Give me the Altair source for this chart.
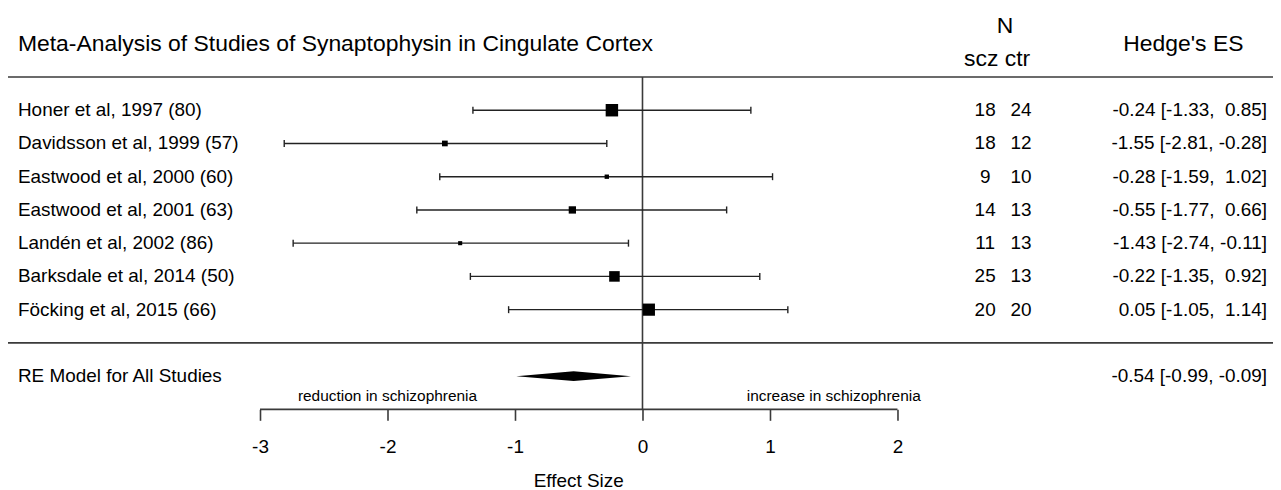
import altair as alt
import pandas as pd

# ---------------- data ----------------
studies = [
    "Honer et al, 1997 (80)",
    "Davidsson et al, 1999 (57)",
    "Eastwood et al, 2000 (60)",
    "Eastwood et al, 2001 (63)",
    "Landén et al, 2002 (86)",
    "Barksdale et al, 2014 (50)",
    "Föcking et al, 2015 (66)",
]
es = [-0.24, -1.55, -0.28, -0.55, -1.43, -0.22, 0.05]
ci_lo = [-1.33, -2.81, -1.59, -1.77, -2.74, -1.35, -1.05]
ci_hi = [0.85, -0.28, 1.02, 0.66, -0.11, 0.92, 1.14]
n_scz = [18, 18, 9, 14, 11, 25, 20]
n_ctr = [24, 12, 10, 13, 13, 13, 20]
precision = [1.80, 1.55, 1.50, 1.61, 1.49, 1.73, 1.79]  # 1/SE, drives box size

re_label = "RE Model for All Studies"
re_es, re_lo, re_hi = -0.54, -0.99, -0.09

tick_values = [-3, -2, -1, 0, 1, 2]
axis_title = "Effect Size"
title_text = "Meta-Analysis of Studies of Synaptophysin in Cingulate Cortex"
left_note = "reduction in schizophrenia"
right_note = "increase in schizophrenia"

# ---------------- layout ----------------
W, H = 1270, 402
XLO = -3 - 253 / 128
XHI = XLO + W / 128
YLO = -3.047
YHI = 9.0
FONT = "Liberation Sans"
LINE = "#3a3a3a"
RE_ROW = 8

x_scale = alt.Scale(domain=[XLO, XHI], nice=False, zero=False)
y_scale = alt.Scale(domain=[YLO, YHI], nice=False, zero=False, reverse=True)


def fmt(v):
    return f"{v:5.2f}".replace(" ", "\u00a0")


rows = list(range(len(studies)))
pmin, pmax = min(precision), max(precision)
df = pd.DataFrame({
    "study": studies, "es": es, "lo": ci_lo, "hi": ci_hi,
    "scz": n_scz, "ctr": n_ctr, "prec": precision, "row": rows,
})
df["box"] = (4.1 + (df["prec"] - pmin) / (pmax - pmin) * 8.4) ** 2
df["estext"] = [f"{fmt(e)} [{l:.2f}, {fmt(h)}]" for e, l, h in zip(es, ci_lo, ci_hi)]


def Y(f):
    return alt.Y(f, scale=y_scale, axis=None)


def X(f):
    return alt.X(f, scale=x_scale, axis=None)


def text(data, align, size, px=None, xfield=None, yfield="row:Q", tfield="t:N", dy=0):
    enc = dict(y=Y(yfield), text=tfield)
    enc["x"] = alt.value(px) if px is not None else X(xfield)
    return alt.Chart(data).mark_text(
        align=align, baseline="middle", font=FONT, fontSize=size, color="black", dy=dy
    ).encode(**enc)


# axis layer (domain line drawn from -3 to 2, ticks + labels from the axis)
ax = pd.DataFrame({"x": [min(tick_values)], "x2": [max(tick_values)], "y": [YHI]})
axis_layer = alt.Chart(ax).mark_rule(color=LINE, strokeWidth=1.6).encode(
    x=alt.X("x:Q", scale=x_scale, axis=alt.Axis(
        values=tick_values, domain=False, grid=False, tickSize=11, tickWidth=1.6,
        tickColor=LINE, labelFont=FONT, labelFontSize=19, labelColor="black",
        labelPadding=17, labelExpr="toString(datum.value)", labelFlush=False,
        labelOverlap=False, title=None)),
    x2="x2:Q", y=Y("y:Q"))

# horizontal separator lines
hl = pd.DataFrame({"y": [-1.0, 7.0]})
hlines = alt.Chart(hl).mark_rule(color=LINE, strokeWidth=1.6).encode(
    x=alt.value(0), x2=alt.value(W), y=Y("y:Q"))

# zero line
zl = pd.DataFrame({"x": [0], "y": [-1.0], "y2": [YHI]})
zero = alt.Chart(zl).mark_rule(color=LINE, strokeWidth=1.6).encode(
    x=X("x:Q"), y=Y("y:Q"), y2="y2:Q")

# CI lines and caps
ci = alt.Chart(df).mark_rule(color="#222222", strokeWidth=1.4).encode(
    x=X("lo:Q"), x2="hi:Q", y=Y("row:Q"))
cap_lo = alt.Chart(df).mark_rule(color="#222222", strokeWidth=1.4, yOffset=-3.5, y2Offset=3.5).encode(
    x=X("lo:Q"), y=Y("row:Q"), y2="row:Q")
cap_hi = alt.Chart(df).mark_rule(color="#222222", strokeWidth=1.4, yOffset=-3.5, y2Offset=3.5).encode(
    x=X("hi:Q"), y=Y("row:Q"), y2="row:Q")

boxes = alt.Chart(df).mark_square(color="black", opacity=1, strokeWidth=0).encode(
    x=X("es:Q"), y=Y("row:Q"), size=alt.Size("box:Q", scale=None, legend=None))

# RE diamond
dd = pd.DataFrame({"x": [re_lo, re_es, re_hi],
                   "y": [RE_ROW, RE_ROW - 0.15, RE_ROW],
                   "y2": [RE_ROW, RE_ROW + 0.15, RE_ROW]})
diamond = alt.Chart(dd).mark_area(color="black", interpolate="linear").encode(
    x=X("x:Q"), y=Y("y:Q"), y2="y2:Q")

# study labels and columns
lab = text(df, "left", 19, px=10, tfield="study:N")
scz = text(df, "center", 19, px=981, tfield="scz:Q")
ctr = text(df, "center", 19, px=1017, tfield="ctr:Q")
estx = text(df, "right", 19, px=1264, tfield="estext:N")

re_df = pd.DataFrame({"row": [RE_ROW], "label": [re_label],
                      "txt": [f"{re_es:.2f} [{re_lo:.2f}, {re_hi:.2f}]"]})
re_lab = text(re_df, "left", 19, px=10, tfield="label:N")
re_txt = text(re_df, "right", 19, px=1264, tfield="txt:N")

# headers
headers = [
    text(pd.DataFrame({"y": [-2.0], "t": [title_text]}), "left", 23, px=10, yfield="y:Q"),
    text(pd.DataFrame({"y": [-2.54], "t": ["N"]}), "center", 23, px=1001, yfield="y:Q"),
    text(pd.DataFrame({"y": [-1.54], "t": ["scz ctr"]}), "center", 23, px=993, yfield="y:Q"),
    text(pd.DataFrame({"y": [-2.0], "t": ["Hedge's ES"]}), "center", 23, px=1180, yfield="y:Q"),
]

notes = pd.DataFrame({"x": [-2.0, 1.5], "y": [8.59, 8.59], "t": [left_note, right_note]})
note_layer = text(notes, "center", 15.5, xfield="x:Q", yfield="y:Q")

xt = pd.DataFrame({"x": [(min(tick_values) + max(tick_values)) / 2], "y": [YHI + 2.16], "t": [axis_title]})
xtitle = text(xt, "center", 19, xfield="x:Q", yfield="y:Q")

chart = alt.layer(
    axis_layer, hlines, zero, ci, cap_lo, cap_hi, boxes, diamond,
    lab, scz, ctr, estx, re_lab, re_txt, note_layer, xtitle, *headers
).resolve_axis(x="independent", y="independent").properties(
    width=W, height=H,
    autosize=alt.AutoSizeParams(type="none"),
    padding={"left": 0, "top": 0, "right": 0, "bottom": 80},
    background="white",
).configure_view(stroke=None)

chart.save("out.html", embed_options={"renderer": "svg", "actions": False})
